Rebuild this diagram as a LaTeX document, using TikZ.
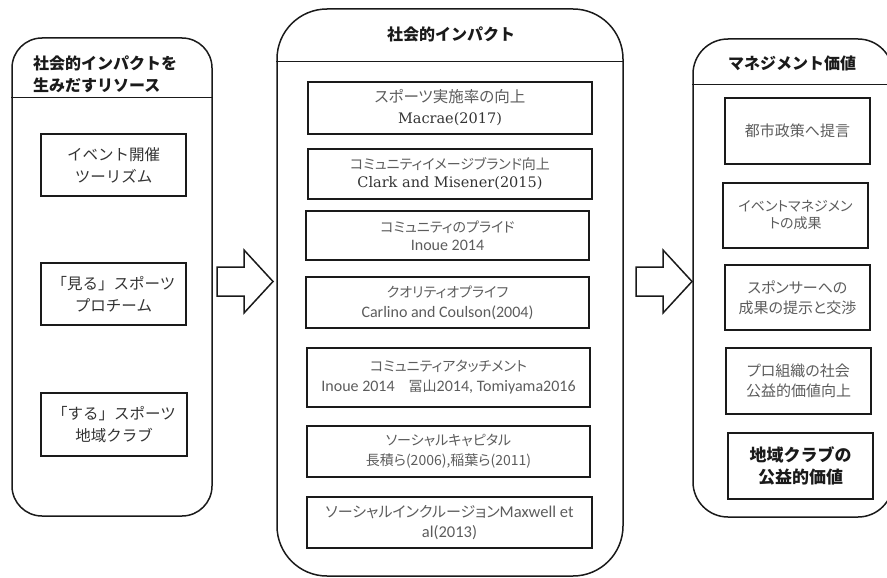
\documentclass[tikz,border=0pt]{standalone}
\usepackage{fontspec}
\setmainfont{Noto Sans CJK JP}
\newfontfamily\jpprop{Noto Sans CJK JP}[RawFeature=+palt]
\newfontfamily\serfont{DejaVu Serif}
\newfontfamily\calfont{Carlito}

\definecolor{ink}{HTML}{1A1A1A}
\definecolor{soft}{HTML}{5C5C5C}
\definecolor{mid}{HTML}{333333}

\begin{document}
\begin{tikzpicture}[x=1pt,y=-1pt,
  panel/.style={draw=ink, line width=1.5pt, inner sep=0pt},
  divider/.style={draw=ink, line width=1pt},
  item/.style={draw=ink, line width=1.6pt, inner sep=0pt, align=center},
  title/.style={font=\fontsize{16}{22}\selectfont\bfseries, text=ink, inner sep=0pt},
  resbox/.style={item, text=mid, minimum width=145pt, minimum height=62pt,
                 font=\fontsize{15.5}{22}\selectfont},
  impbox/.style={item, text=soft, font=\fontsize{14}{20}\selectfont\jpprop},
  valbox/.style={item, text=soft, minimum width=145pt, minimum height=65pt,
                 font=\fontsize{15}{20}\selectfont\jpprop},
  blockarrow/.style={draw=ink, line width=1.5pt, line join=miter}]
\useasboundingbox (0,0) rectangle (887,578);

% three column panels
\node[panel, rounded corners=30pt, minimum width=200pt, minimum height=478pt] (lp) at (112,277) {};
\node[panel, rounded corners=50pt, minimum width=346pt, minimum height=567pt] (mp) at (450,292.5) {};
\node[panel, rounded corners=35pt, minimum width=200pt, minimum height=478pt] (rp) at (793,278) {};

\draw[divider] (lp.west |- 0,98) -- (lp.east |- 0,98);
\draw[divider] (mp.west |- 0,62) -- (mp.east |- 0,62);
\draw[divider] (rp.west |- 0,85) -- (rp.east |- 0,85);

% column headings
\node[title, anchor=west, align=left] (lt) at (33,74) {社会的インパクトを\\生みだすリソース};
\node[title] (mt) at (451,34) {社会的インパクト};
\node[title] (rt) at (792,63) {マネジメント価値};

% resources
\node[resbox] (l1) at (113.5,165) {イベント開催\\ツーリズム};
\node[resbox] (l2) at (113.5,294) {「見る」スポーツ\\プロチーム};
\node[resbox, minimum width=146pt, minimum height=63pt] (l3) at (114,424.5) {「する」スポーツ\\地域クラブ};

% social impacts
\node[impbox, minimum width=284pt, minimum height=52pt, font=\fontsize{15.5}{21}\selectfont\jpprop] (m1) at (450,108)
  {スポーツ実施率の向上\\{\serfont\fontsize{14.5}{21}\selectfont\color{mid}Macrae(2017)}};
\node[impbox, minimum width=284pt, minimum height=50pt, font=\fontsize{14}{18}\selectfont\jpprop] (m2) at (450,174)
  {コミュニティイメージブランド向上\\{\serfont\fontsize{14.5}{18}\selectfont\color{mid}Clark and Misener(2015)}};
\node[impbox, minimum width=283pt, minimum height=49pt, font=\fontsize{14}{18}\selectfont\jpprop] (m3) at (447.5,235.5)
  {コミュニティのプライド\\{\calfont\fontsize{16}{18}\selectfont Inoue 2014}};
\node[impbox, minimum width=283pt, minimum height=51pt] (m4) at (447.5,302.5)
  {クオリティオプライフ\\{\calfont\fontsize{16}{20}\selectfont Carlino and Coulson(2004)}};
\node[impbox, minimum width=283pt, minimum height=59pt] (m5) at (448.5,377.5)
  {コミュニティアタッチメント\\{\calfont\fontsize{16}{20}\selectfont Inoue 2014}　冨山{\calfont\fontsize{16}{20}\selectfont 2014, Tomiyama2016}};
\node[impbox, minimum width=283pt, minimum height=51pt] (m6) at (448.5,451.5)
  {ソーシャルキャピタル\\長積ら(2006),稲葉ら(2011)};
\node[impbox, minimum width=285pt, minimum height=51pt, font=\fontsize{15}{20}\selectfont\jpprop] (m7) at (449.5,522.5)
  {ソーシャルインクルージョン{\calfont\fontsize{16.5}{20}\selectfont Maxwell et}\\{\calfont\fontsize{16.5}{20}\selectfont al(2013)}};

% management values
\node[valbox, minimum height=66pt] (r1) at (797.5,131) {都市政策へ提言};
\node[valbox, font=\fontsize{14}{17}\selectfont\jpprop] (r2) at (795.5,215.5) {イベントマネジメン\\トの成果};
\node[valbox] (r3) at (797.5,297.5) {スポンサーへの\\成果の提示と交渉};
\node[valbox, minimum height=66pt] (r4) at (798.5,381) {プロ組織の社会\\公益的価値向上};
\node[valbox, minimum height=66pt, text=ink, font=\fontsize{17}{22}\selectfont\bfseries] (r5) at (800.5,466) {地域クラブの\\公益的価値};

% block arrows between the columns (tail points)
\coordinate (a1) at (217,281.5);
\coordinate (a2) at (636,281.5);
\foreach \tail in {a1,a2}
  \draw[blockarrow] (\tail) ++(0,-14.5) -- ++(27,0) -- ++(0,-17) -- ++(29,31.5)
        -- ++(-29,31.5) -- ++(0,-17) -- ++(-27,0) -- cycle;
\end{tikzpicture}
\end{document}
